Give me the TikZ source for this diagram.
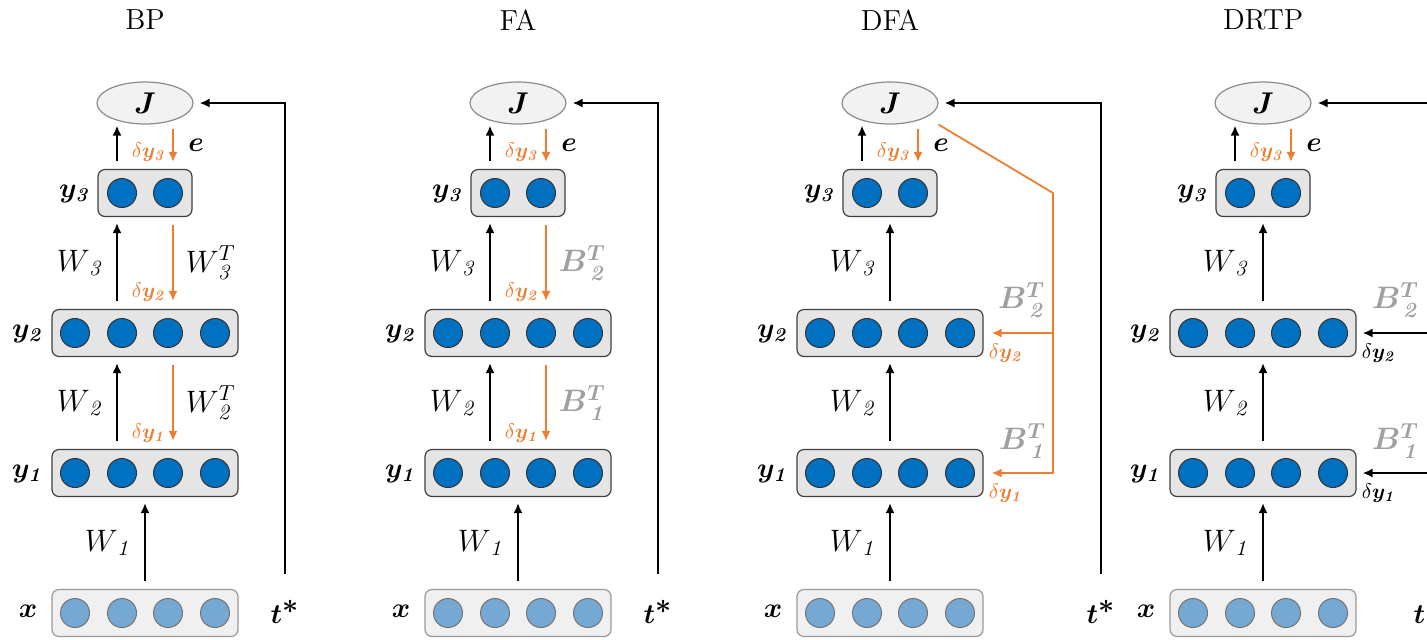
\RequirePackage{fix-cm}
\documentclass[tikz,border=0pt]{standalone}
\usetikzlibrary{shapes.geometric,arrows.meta}
\definecolor{errorange}{RGB}{237,125,49}
\definecolor{unitblue}{RGB}{0,112,192}
\definecolor{inblue}{RGB}{118,168,212}
\definecolor{bgray}{RGB}{160,160,160}
\newcommand{\dely}[1]{{\unboldmath$\delta$}$y_{\mathit #1}$}
\tikzset{
  layerbox/.style={draw=black!75,fill=black!10,rounded corners=3.5pt,line width=0.6pt,minimum height=23.5pt,inner sep=0pt},
  inbox/.style={layerbox,draw=black!40,fill=black!6},
  neuron/.style={circle,draw=black!80,fill=unitblue,minimum size=14.5pt,inner sep=0pt,line width=0.5pt},
  inneuron/.style={neuron,draw=black!55,fill=inblue},
  cost/.style={ellipse,draw=black!45,fill=black!5,minimum width=48pt,minimum height=21pt,inner sep=0pt,line width=0.6pt,font=\fontsize{15}{17}\selectfont\boldmath},
  paneltitle/.style={font=\fontsize{14.5}{17}\selectfont},
  lab/.style={font=\fontsize{14}{16}\selectfont\boldmath,inner sep=1pt},
  wlab/.style={font=\fontsize{15.5}{18}\selectfont,inner sep=1pt},
  blab/.style={font=\fontsize{15.5}{18}\selectfont\boldmath,text=bgray,inner sep=1pt},
  dlab/.style={font=\fontsize{10.5}{12}\selectfont\boldmath,text=errorange,inner sep=0pt},
  fwd/.style={-{Latex[length=5pt,width=4.5pt]},line width=0.9pt,shorten <=4pt,shorten >=3pt},
  bwd/.style={fwd,draw=errorange,shorten >=4pt}
}
\begin{document}
\begin{tikzpicture}[x=0.5pt,y=-0.5pt]
\path[use as bounding box] (0,0) rectangle (1427,639);
\clip (0,0) rectangle (1427,639);

% one network per panel
\foreach \p/\n/\name/\tx/\wx in {0/bp/BP/285/-14pt, 373/fa/FA/285/-14pt, 745/dfa/DFA/356/0pt, 1118/drtp/DRTP/310/0pt} {
\begin{scope}[shift={(\p,0)}]
  \node[paneltitle] (\n-title) at (145,20) {\name};
  \node[cost] (\n-J) at (145,103) {$J$};
  \node[layerbox,minimum width=47pt] (\n-y3) at (145,193) {};
  \foreach \i/\cx in {1/122,2/168}
    \node[neuron] (\n-y3-\i) at (\cx,193) {};
  \foreach \l/\cy in {y2/333,y1/473} {
    \node[layerbox,minimum width=93pt] (\n-\l) at (145,\cy) {};
    \foreach \i/\cx in {1/75,2/122,3/168,4/215}
      \node[neuron] (\n-\l-\i) at (\cx,\cy) {};
  }
  \node[inbox,minimum width=93pt] (\n-x) at (145,613) {};
  \foreach \i/\cx in {1/75,2/122,3/168,4/215}
    \node[inneuron] (\n-x-\i) at (\cx,613) {};

  \node[lab] (\n-ly3) at (75,194) {$y_{\mathit 3}$};
  \node[lab] (\n-ly2) at (28,334) {$y_{\mathit 2}$};
  \node[lab] (\n-ly1) at (28,474) {$y_{\mathit 1}$};
  \node[lab] (\n-lx) at (28,611) {$x$};
  \node[lab] (\n-t) at (\tx,612) {$t^{\textstyle *}$};

  % forward pass
  \draw[fwd,shorten >=0.5pt] ([xshift=-14pt]\n-y3.north) -- ([xshift=-14pt]\n-y3.north |- \n-J.south);
  \draw[fwd] ([xshift=\wx]\n-y2.north) -- ([xshift=\wx]\n-y3.south) node[midway,left=5pt,wlab] {$W_{\,\mathit 3}$};
  \draw[fwd] ([xshift=\wx]\n-y1.north) -- ([xshift=\wx]\n-y2.south) node[midway,left=5pt,wlab] {$W_{\,\mathit 2}$};
  \draw[fwd] (\n-x) -- (\n-y1) node[midway,left=5pt,wlab] {$W_{\,\mathit 1}$};

  % target and output error
  \draw[fwd,shorten <=12pt] (\n-t.north) |- (\n-J.east);
  \draw[bwd,shorten <=2pt,shorten >=3.5pt] ([xshift=14pt]\n-J.south) -- ([xshift=14pt]\n-y3.north);
  \node[dlab] (\n-d3) at (149,152) {\dely{3}};
  \node[lab] (\n-e) at (196,145) {$e$};
\end{scope}
}

% BP
\draw[bwd] ([xshift=14pt]bp-y3.south) -- ([xshift=14pt]bp-y2.north) node[midway,right=5pt,wlab] {$W^{T}_{\,\mathit 3}$};
\draw[bwd] ([xshift=14pt]bp-y2.south) -- ([xshift=14pt]bp-y1.north) node[midway,right=5pt,wlab] {$W^{T}_{\,\mathit 2}$};
\node[dlab] (bp-d2) at (149,292) {\dely{2}};
\node[dlab] (bp-d1) at (149,433) {\dely{1}};

% FA
\draw[bwd] ([xshift=14pt]fa-y3.south) -- ([xshift=14pt]fa-y2.north) node[midway,right=5pt,blab] {$B^{T}_{\,\mathit 2}$};
\draw[bwd] ([xshift=14pt]fa-y2.south) -- ([xshift=14pt]fa-y1.north) node[midway,right=5pt,blab] {$B^{T}_{\,\mathit 1}$};
\node[dlab] (fa-d2) at (522,292) {\dely{2}};
\node[dlab] (fa-d1) at (522,433) {\dely{1}};

% DFA
\coordinate (dfa-bend) at (1053,193);
\draw[bwd,shorten <=0pt] (dfa-J.east |- dfa-J.south) -- (dfa-bend) |- (dfa-y1.east);
\draw[bwd,shorten <=0pt] (dfa-bend |- dfa-y2.east) -- (dfa-y2.east);
\node[blab] (dfa-b2) at (1022,300) {$B^{T}_{\,\mathit 2}$};
\node[blab] (dfa-b1) at (1023,441) {$B^{T}_{\,\mathit 1}$};
\node[dlab] (dfa-d2) at (1006,353) {\dely{2}};
\node[dlab] (dfa-d1) at (1006,493) {\dely{1}};

% DRTP
\draw[fwd,shorten <=0pt] (drtp-t.north |- drtp-y2.east) -- (drtp-y2.east);
\draw[fwd,shorten <=0pt] (drtp-t.north |- drtp-y1.east) -- (drtp-y1.east);
\node[blab] (drtp-b2) at (1396,300) {$B^{T}_{\,\mathit 2}$};
\node[blab] (drtp-b1) at (1396,441) {$B^{T}_{\,\mathit 1}$};
\node[dlab,text=black] (drtp-d2) at (1379,353) {\dely{2}};
\node[dlab,text=black] (drtp-d1) at (1379,493) {\dely{1}};
\end{tikzpicture}
\end{document}
